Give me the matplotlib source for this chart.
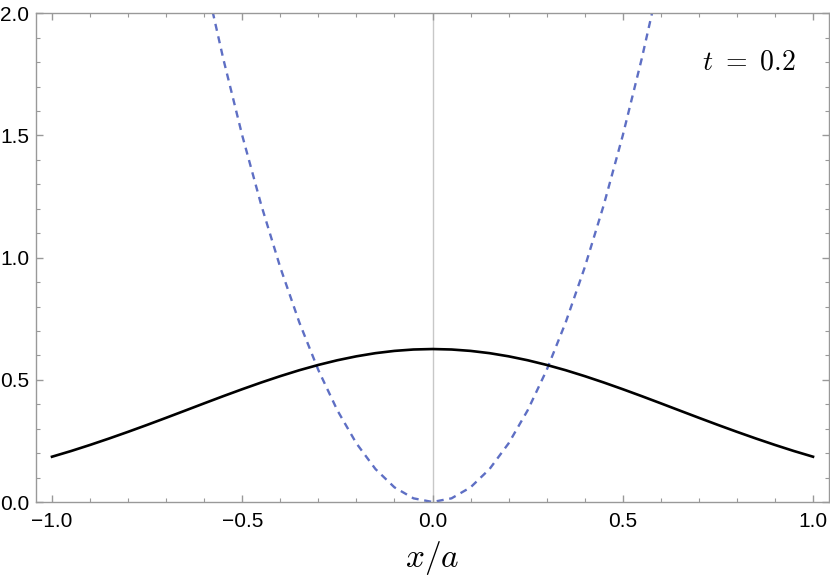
import numpy as np
import matplotlib.pyplot as plt
from matplotlib.ticker import MultipleLocator

# values for x >= 0 (curves are symmetric about x = 0)
x_half = [0.0, 0.05, 0.1, 0.15, 0.2, 0.25, 0.3, 0.35, 0.4, 0.45, 0.5,
          0.55, 0.6, 0.65, 0.7, 0.75, 0.8, 0.85, 0.9, 0.95, 1.0]
density_half = [0.626, 0.6241, 0.6184, 0.6091, 0.5962, 0.5801, 0.5610, 0.5393,
                0.5151, 0.4891, 0.4616, 0.4331, 0.4038, 0.3741, 0.3446, 0.3155,
                0.2872, 0.2598, 0.2335, 0.2085, 0.1853]
potential_half = [0.0, 0.015, 0.06, 0.135, 0.24, 0.375, 0.54, 0.735, 0.96,
                  1.215, 1.5, 1.815, 2.16]

x_half = np.array(x_half)
xs = np.concatenate([-x_half[:0:-1], x_half])
density = np.concatenate([np.array(density_half)[:0:-1], density_half])
xp = x_half[:len(potential_half)]
xp_full = np.concatenate([-xp[:0:-1], xp])
potential = np.concatenate([np.array(potential_half)[:0:-1], potential_half])

plt.rcParams['font.family'] = ['Liberation Sans', 'DejaVu Sans']
plt.rcParams['mathtext.fontset'] = 'cm'

fig = plt.figure(figsize=(8.3, 5.88), dpi=100)
ax = fig.add_axes([36/830, 1-502/588, 793/830, (502-13.3)/588])

ax.axvline(0, color='#c8c8c8', lw=1.0, zorder=1)
ax.plot(xp_full, potential, color='#5e6fc4', lw=1.7, ls=(0, (3, 2.4)), zorder=2)
ax.plot(xs, density, color='black', lw=1.9, zorder=3)

ax.set_xlim(-1.042, 1.042)
ax.set_ylim(0, 2.0)
ax.xaxis.set_major_locator(MultipleLocator(0.5))
ax.xaxis.set_minor_locator(MultipleLocator(0.1))
ax.yaxis.set_major_locator(MultipleLocator(0.5))
ax.yaxis.set_minor_locator(MultipleLocator(0.1))
ax.xaxis.set_major_formatter(lambda v, p: f'{v:.1f}'.replace('-', '\u2212'))
ax.yaxis.set_major_formatter(lambda v, p: f'{v:.1f}')
ax.tick_params(which='both', direction='in', top=True, right=True,
               color='#999999', labelsize=15, labelcolor='black')
ax.tick_params(which='major', length=5, width=1)
ax.tick_params(which='minor', length=3, width=0.8)
ax.tick_params(axis='y', pad=5)
ax.tick_params(axis='x', pad=7)
ax.tick_params(right=True, labelright=False, top=True, labeltop=False)
for s in ax.spines.values():
    s.set_color('#999999')
    s.set_linewidth(1.0)

ax.set_xlabel(r'$x/a$', fontsize=24, labelpad=6)
ax.text(0.958, 0.900, r'$t\ =\ 0.2$', transform=ax.transAxes, fontsize=20,
        ha='right', va='center')

fig.savefig('out.png', dpi=100)
